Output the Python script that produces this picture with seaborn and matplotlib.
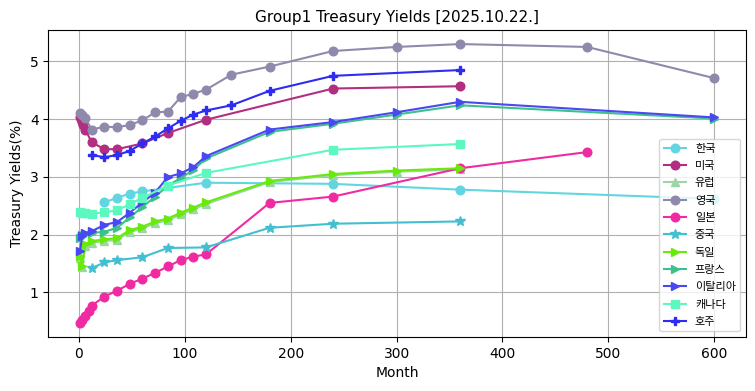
import matplotlib
matplotlib.use("Agg")
import matplotlib.pyplot as plt
import seaborn as sns
import pandas as pd

# ---- data (months, yields %) ----
kr_m = [24, 36, 48, 60, 120, 240, 360, 600]
kr_y = [2.56, 2.64, 2.71, 2.75, 2.90, 2.88, 2.78, 2.62]

us_m = [1, 2, 3, 4, 6, 12, 24, 36, 60, 84, 120, 240, 360]
us_y = [4.03, 4.00, 3.95, 3.90, 3.82, 3.60, 3.48, 3.48, 3.58, 3.76, 3.99, 4.53, 4.57]

eu_m = [1, 3, 6, 12, 24, 36, 48, 60, 72, 84, 96, 108, 120, 180, 240, 300, 360]
eu_y = [1.60, 1.44, 1.81, 1.86, 1.89, 1.91, 2.05, 2.11, 2.20, 2.25, 2.35, 2.44, 2.53, 2.91, 3.03, 3.09, 3.13]

uk_m = [1, 3, 6, 12, 24, 36, 48, 60, 72, 84, 96, 108, 120, 144, 180, 240, 300, 360, 480, 600]
uk_y = [4.10, 4.08, 4.02, 3.82, 3.87, 3.86, 3.90, 3.98, 4.12, 4.13, 4.38, 4.44, 4.51, 4.77, 4.91, 5.18, 5.25, 5.30, 5.25, 4.71]

jp_m = [1, 3, 6, 9, 12, 24, 36, 48, 60, 72, 84, 96, 108, 120, 180, 240, 360, 480]
jp_y = [0.47, 0.52, 0.60, 0.68, 0.77, 0.93, 1.03, 1.15, 1.24, 1.34, 1.45, 1.56, 1.62, 1.66, 2.55, 2.66, 3.15, 3.43]

cn_m = [12, 24, 36, 60, 84, 120, 180, 240, 360]
cn_y = [1.42, 1.52, 1.56, 1.61, 1.77, 1.78, 2.12, 2.19, 2.23]

de_m = [1, 3, 6, 12, 24, 36, 48, 60, 72, 84, 96, 108, 120, 180, 240, 300, 360]
de_y = [1.63, 1.46, 1.84, 1.89, 1.92, 1.94, 2.08, 2.14, 2.23, 2.28, 2.38, 2.47, 2.56, 2.93, 3.05, 3.11, 3.15]

fr_m = [1, 3, 6, 12, 24, 36, 48, 60, 72, 84, 96, 108, 120, 180, 240, 300, 360, 600]
fr_y = [1.95, 2.00, 2.02, 2.03, 2.05, 2.12, 2.30, 2.48, 2.66, 2.85, 2.98, 3.12, 3.32, 3.78, 3.92, 4.08, 4.24, 4.01]

it_m = [1, 3, 6, 12, 24, 36, 48, 60, 72, 84, 96, 108, 120, 180, 240, 300, 360, 600]
it_y = [1.72, 1.98, 2.03, 2.06, 2.17, 2.22, 2.38, 2.56, 2.73, 3.00, 3.06, 3.17, 3.36, 3.82, 3.95, 4.12, 4.30, 4.03]

ca_m = [1, 3, 6, 12, 24, 36, 48, 60, 84, 120, 240, 360]
ca_y = [2.40, 2.38, 2.37, 2.36, 2.39, 2.42, 2.53, 2.64, 2.85, 3.07, 3.47, 3.57]

au_m = [12, 24, 36, 48, 60, 72, 84, 96, 108, 120, 144, 180, 240, 360]
au_y = [3.38, 3.34, 3.38, 3.45, 3.58, 3.70, 3.84, 3.97, 4.08, 4.15, 4.24, 4.49, 4.75, 4.85]

names = ["한국", "미국", "유럽", "영국", "일본", "중국", "독일", "프랑스", "이탈리아", "캐나다", "호주"]
months = [kr_m, us_m, eu_m, uk_m, jp_m, cn_m, de_m, fr_m, it_m, ca_m, au_m]
yields = [kr_y, us_y, eu_y, uk_y, jp_y, cn_y, de_y, fr_y, it_y, ca_y, au_y]
colors = ["#62d6e0", "#b12e80", "#9dd6a6", "#8f8aac", "#f02ba2", "#42bfd0",
          "#68ea0a", "#3cc08c", "#4a48f0", "#5cf8c0", "#2e2cf0"]
markers = ["o", "o", "^", "o", "o", "*", ">", ">", ">", "s", "P"]

rows = []
for n, ms, ys in zip(names, months, yields):
    for m, y in zip(ms, ys):
        rows.append({"country": n, "Month": m, "Yield": y})
df = pd.DataFrame(rows)

plt.rcParams['font.family'] = ['DejaVu Sans', 'Noto Sans CJK KR']
plt.rcParams['axes.unicode_minus'] = False

fig, ax = plt.subplots(figsize=(7.55, 3.91), dpi=100)
for n, c, mk in zip(names, colors, markers):
    sub = df[df["country"] == n]
    sns.lineplot(data=sub, x="Month", y="Yield", ax=ax, color=c, marker=mk,
                 markersize=6.2 if mk != "*" else 7.2, markeredgecolor=c,
                 markeredgewidth=1, linewidth=1.5, label=n, sort=False)

ax.grid(True, color="#b0b0b0", linewidth=0.8)
ax.set_axisbelow(True)
ax.set_title("Group1 Treasury Yields [2025.10.22.]", fontsize=11)
ax.set_xlabel("Month", fontsize=10)
ax.set_ylabel("Treasury Yields(%)", fontsize=10)
ax.set_xticks([0, 100, 200, 300, 400, 500, 600])
ax.set_yticks([1, 2, 3, 4, 5])
ax.legend(loc="lower right", prop={"family": "Noto Sans CJK KR", "size": 8},
          labelspacing=0.66, framealpha=0.8)

fig.subplots_adjust(left=0.064, right=0.988, bottom=0.138, top=0.923)
fig.savefig("out.png", dpi=100)
